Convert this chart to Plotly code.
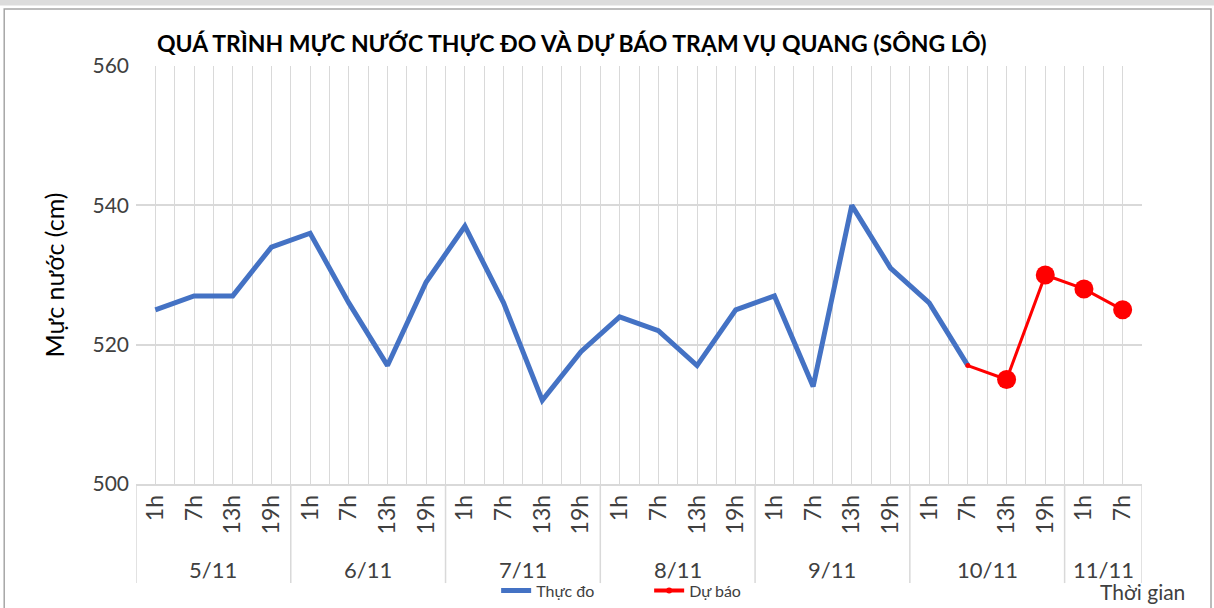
import plotly.graph_objects as go

# ---- data ----
days = ["5/11", "6/11", "7/11", "8/11", "9/11", "10/11", "11/11"]
hours_per_day = [
    ["1h", "7h", "13h", "19h"],
    ["1h", "7h", "13h", "19h"],
    ["1h", "7h", "13h", "19h"],
    ["1h", "7h", "13h", "19h"],
    ["1h", "7h", "13h", "19h"],
    ["1h", "7h", "13h", "19h"],
    ["1h", "7h"],
]
observed = [525, 527, 527, 534, 536, 526, 517, 529, 537, 526, 512, 519,
            524, 522, 517, 525, 527, 514, 540, 531, 526, 517]
forecast = [517, 515, 530, 528, 525]
forecast_start = 21  # index of 10/11 7h

# ---- derived ----
hour_labels = [h for hs in hours_per_day for h in hs]
n = len(hour_labels)
xs = list(range(n))
obs_x = xs[:len(observed)]
fc_x = xs[forecast_start:forecast_start + len(forecast)]

FONT = "Lato"
BLUE = "#4472C4"
RED = "#FF0000"
GRID = "#d9d9d9"
TXT = "#404040"

fig = go.Figure()
fig.add_trace(go.Scatter(
    x=obs_x, y=observed, mode="lines", name="Thực đo",
    line=dict(color=BLUE, width=5), showlegend=True,
))
fig.add_trace(go.Scatter(
    x=fc_x, y=forecast, mode="lines+markers", name="Dự báo",
    line=dict(color=RED, width=3),
    marker=dict(color=RED, size=[5] + [19] * (len(forecast) - 1),
                opacity=1, line=dict(width=0)),
    showlegend=False,
))
# legend entry with small marker
fig.add_trace(go.Scatter(
    x=[None], y=[None], mode="lines+markers", name="Dự báo",
    line=dict(color=RED, width=4),
    marker=dict(color=RED, size=6, opacity=1, line=dict(width=0)),
))

# day group labels and dividers
start = 0
bounds = [-0.5]
for d, hs in zip(days, hours_per_day):
    center = start + (len(hs) - 1) / 2
    fig.add_annotation(x=center, y=-0.204, xref="x", yref="paper",
                       text=d, showarrow=False, yanchor="middle",
                       font=dict(family=FONT, size=22, color=TXT))
    start += len(hs)
    bounds.append(start - 0.5)
for b in bounds:
    fig.add_shape(type="line", xref="x", yref="paper", x0=b, x1=b,
                  y0=0, y1=-0.237, line=dict(color=GRID, width=1.5))

fig.add_annotation(x=1.0, y=-0.257, xref="paper", yref="paper",
                   text="Thời gian", showarrow=False, xanchor="center",
                   yanchor="middle", font=dict(family=FONT, size=21, color=TXT))

# chart frame
fig.add_shape(type="rect", xref="paper", yref="paper",
              x0=-0.131, x1=1.0686, y0=-0.35, y1=1.1364,
              line=dict(color="#a6a6a6", width=1.5), fillcolor="rgba(0,0,0,0)",
              layer="below")
fig.add_shape(type="rect", xref="paper", yref="paper",
              x0=-0.2, x1=1.2, y0=1.1364 + 0.0085, y1=1.3,
              line=dict(width=0), fillcolor="#dcdcdc", layer="below")

fig.update_layout(
    width=1214, height=608,
    margin=dict(l=136, r=72, t=66, b=124, autoexpand=False),
    paper_bgcolor="white", plot_bgcolor="white",
    title=dict(text="<b>QUÁ TRÌNH MỰC NƯỚC THỰC ĐO VÀ DỰ BÁO TRẠM VỤ QUANG (SÔNG LÔ)</b>",
               x=0.471, xanchor="center", y=0.928, yanchor="middle",
               xref="container", yref="container",
               font=dict(family=FONT, size=23, color="black")),
    font=dict(family=FONT, color=TXT),
    xaxis=dict(
        range=[-0.5, n - 0.5], tickvals=xs, ticktext=hour_labels,
        tickangle=-90, tickfont=dict(family=FONT, size=23, color=TXT),
        showgrid=True, gridcolor=GRID, gridwidth=1,
        minor=dict(tickvals=[i - 0.5 for i in range(n + 1)], showgrid=True,
                   gridcolor=GRID, gridwidth=1),
        showline=True, linecolor=GRID, linewidth=1.5,
        zeroline=False, ticks="", ticklen=0, automargin=False,
    ),
    yaxis=dict(
        range=[500, 560], dtick=20, tick0=500,
        tickfont=dict(family=FONT, size=21, color=TXT),
        showgrid=True, gridcolor=GRID, gridwidth=1.5, zeroline=False,
        showline=False, ticks="", ticklabelstandoff=6, automargin=False,
        title=dict(text="Mực nước (cm)", standoff=20,
                   font=dict(family=FONT, size=25, color="black")),
    ),
    legend=dict(orientation="h", x=0.358, xanchor="left", y=-0.255,
                yanchor="middle", font=dict(family=FONT, size=16, color=TXT),
                bgcolor="rgba(0,0,0,0)", entrywidth=108,
                entrywidthmode="pixels", tracegroupgap=0),
    showlegend=True,
)

fig.write_html("out.html", config={"displayModeBar": False},
               post_script="document.body.style.margin='0';")
